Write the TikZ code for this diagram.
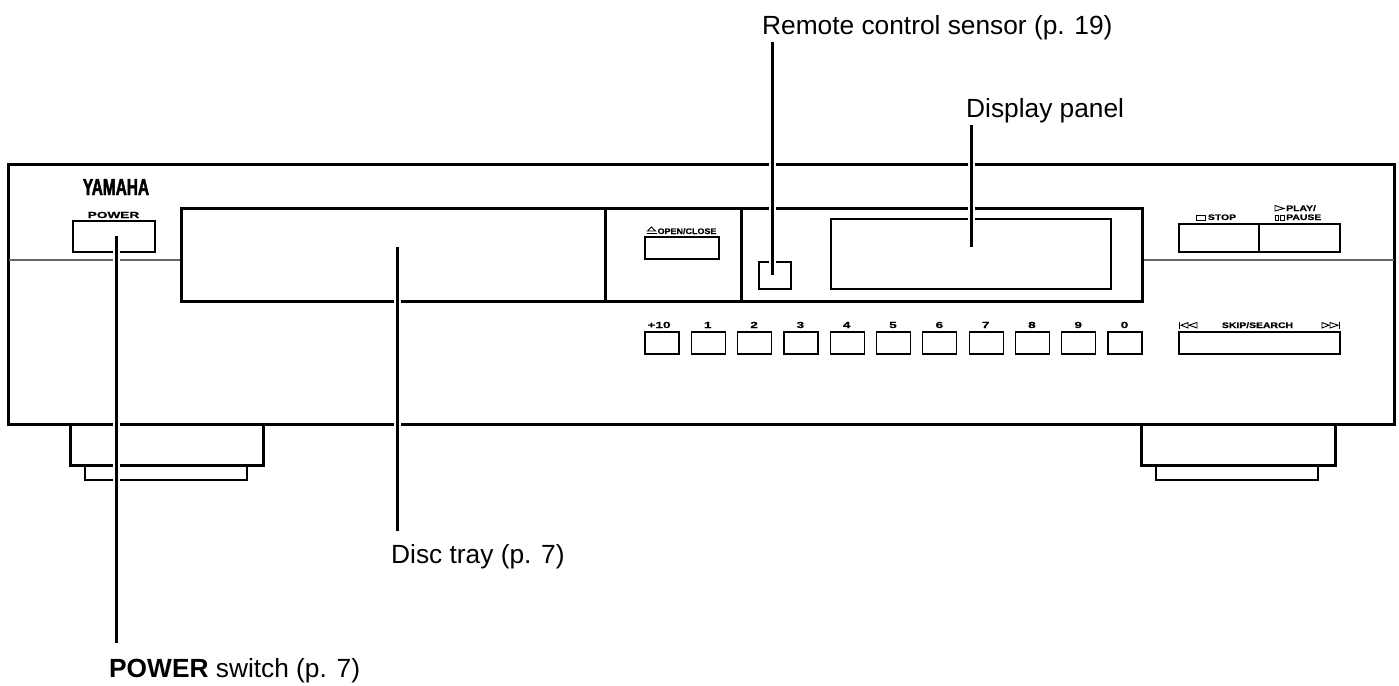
\documentclass[tikz,border=0pt]{standalone}
\usepackage{fontspec}
\setmainfont{Liberation Sans}
\newfontfamily\panelfont[FakeStretch=1.3,FakeBold=0.6]{Liberation Sans}
\newfontfamily\widefont[FakeStretch=1.55,FakeBold=0.6]{Liberation Sans}
\newfontfamily\narrowfont[FakeStretch=1.12,FakeBold=0.5]{Liberation Sans}
\newfontfamily\logofont[FakeStretch=0.67,FakeBold=2]{Liberation Sans}
\begin{document}
\begin{tikzpicture}[x=1pt, y=-1pt,
    heavy/.style={draw, line width=3pt},
    thin box/.style={draw, line width=1.2pt},
    trimline/.style={draw=black!60, line width=1.3pt},
    leader/.style={line width=3pt, preaction={draw=white, line width=7pt}},
    callout/.style={font=\fontsize{26.3}{29}\selectfont, inner sep=0pt, anchor=base west},
    keylabel/.style={font=\panelfont\bfseries\fontsize{8}{8.6}\selectfont, inner sep=0pt, anchor=base},
    digit/.style={font=\widefont\bfseries\fontsize{8.8}{9}\selectfont, inner sep=0pt, anchor=base},
    icon/.style={draw, line width=0.9pt}]
  \useasboundingbox (0,0) rectangle (1399,685);

  % cabinet and feet
  \draw[heavy] (70,424) rectangle (263,465);
  \draw[heavy] (1141,424) rectangle (1335,465);
  \draw[line width=2pt] (85,465) -- (85,480) -- (247,480) -- (247,465);
  \draw[line width=2pt] (1156,465) -- (1156,480) -- (1318,480) -- (1318,465);
  \draw[heavy] (8,164) rectangle (1394,424);
  \draw[trimline] (9,260) -- (181,260);
  \draw[trimline] (1142,260) -- (1394,260);

  % front panel
  \draw[heavy] (181,208) rectangle (1142,301);
  \draw[heavy] (605,208) -- (605,301);
  \draw[heavy] (741.5,208) -- (741.5,301);
  \node[font=\logofont\bfseries\fontsize{23}{23}\selectfont, inner sep=0pt, anchor=base] (logo) at (116,195) {YAMAHA};

  \node[digit] (powerlabel) at (113.5,218) {POWER};
  \draw[thin box] (73,221) rectangle (155,252);
  \draw[thin box] (645,237) rectangle (719,259);
  \node[keylabel, font=\narrowfont\bfseries\fontsize{8}{8.6}\selectfont] (openlabel) at (687,234) {OPEN/CLOSE};
  \draw[icon] (647.5,231) -- (651.5,227) -- (655.5,231) -- cycle;
  \draw[line width=1.2pt] (646.5,233.3) -- (656.5,233.3);
  \draw[thin box] (759,262) rectangle (791,289);
  \draw[thin box] (831,219) rectangle (1111,289);

  \draw[thin box] (1179,224) rectangle (1340,252);
  \draw[thin box] (1259,224) -- (1259,252);
  \node[keylabel] (stoplabel) at (1222,220) {STOP};
  \draw[icon] (1196.5,215.5) rectangle (1205,220);
  \node[keylabel, anchor=base west] (playlabel) at (1286,211) {PLAY/};
  \node[keylabel, anchor=base west] (pauselabel) at (1286,220) {PAUSE};
  \draw[icon] (1275,205.5) -- (1284,208.5) -- (1275,211) -- cycle;
  \draw[icon] (1275,215) rectangle (1278.7,220);
  \draw[icon] (1280.5,215) rectangle (1284,220);

  % number keys
  \foreach \k/\t [count=\i from 0] in {a/+10,b/1,c/2,d/3,e/4,f/5,g/6,h/7,j/8,k/9,m/0}{
    \draw[thin box] ({645+46.3*\i},332) rectangle ({679+46.3*\i},354);
    \node[digit] (key\k) at ({(\i==0 ? 659 : 661.5)+46.3*\i},328) {\t};
  }

  \draw[thin box] (1179,332) rectangle (1340,354);
  \node[keylabel] (skiplabel) at (1257.5,328) {SKIP/SEARCH};
  \draw[icon] (1188,322.5) -- (1181,325.2) -- (1188,328) -- cycle;
  \draw[icon] (1197,322.5) -- (1189,325.2) -- (1197,328) -- cycle;
  \draw[icon] (1179.5,322) -- (1179.5,328.5);
  \draw[icon] (1322,322.5) -- (1329,325.2) -- (1322,328) -- cycle;
  \draw[icon] (1330,322.5) -- (1338,325.2) -- (1330,328) -- cycle;
  \draw[icon] (1339.5,322) -- (1339.5,328.5);

  % callouts
  \node[callout] (remote) at (762,35) {Remote control sensor (p. 19)};
  \node[callout] (display) at (966,117) {Display panel};
  \node[callout] (tray) at (391,563) {Disc tray (p. 7)};
  \node[callout] (power) at (109,677) {\textbf{POWER} switch (p. 7)};

  \coordinate (remotetop) at (772,42);
  \coordinate (remoteend) at (772,275);
  \coordinate (displaytop) at (971,125);
  \coordinate (displayend) at (971,247);
  \coordinate (traytop) at (397,247);
  \coordinate (trayend) at (397,531);
  \coordinate (powertop) at (116,236);
  \coordinate (powerend) at (116,643);

  \draw[leader] (remotetop) -- (remoteend);
  \draw[leader] (displaytop) -- (displayend);
  \draw[leader] (traytop) -- (trayend);
  \draw[leader] (powertop) -- (powerend);
\end{tikzpicture}
\end{document}
